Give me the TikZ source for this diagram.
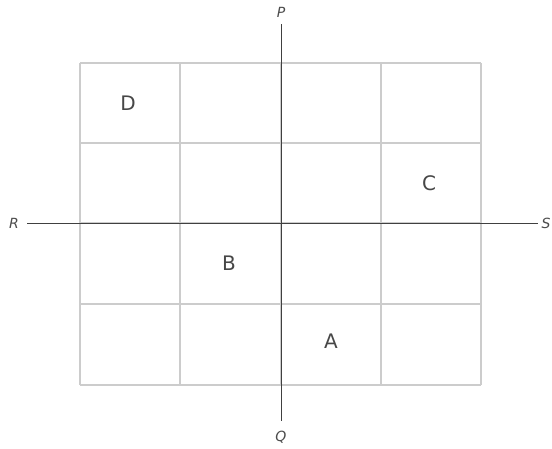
\documentclass[tikz,border=0pt]{standalone}
\usepackage{fontspec}
\setmainfont{DejaVu Sans}
\begin{document}
\begin{tikzpicture}[x=1pt,y=-1pt,
  gridline/.style={draw=black!20,line width=1.1pt},
  axisline/.style={draw=black!75,line width=1pt},
  axlabel/.style={font=\fontsize{14}{14}\selectfont\itshape,text=black!70,inner sep=0pt},
  cell/.style={font=\fontsize{20}{20}\selectfont,text=black!72,inner sep=0pt}]
\useasboundingbox (0,0) rectangle (552,448);
\fill[white] (0,0) rectangle (552,448);
% grid
\foreach \x in {80,180,281,381,481} \draw[gridline] (\x,63) -- (\x,385);
\foreach \y in {63,143,223,304,385} \draw[gridline] (80,\y) -- (481,\y);
% axis labels
\node[axlabel] (P) at (281,12) {P};
\node[axlabel] (Q) at (281,437) {Q};
\node[axlabel] (R) at (14,223) {R};
\node[axlabel] (S) at (546,223) {S};
\coordinate (Ptop) at (281,24);
\coordinate (Qbot) at (281,421);
\coordinate (Rl) at (27,223);
\coordinate (Sr) at (538,223);
\draw[axisline] (Ptop) -- (Qbot);
\draw[axisline] (Rl) -- (Sr);
% cell letters
\node[cell] (D) at (128,103) {D};
\node[cell] (C) at (429,183) {C};
\node[cell] (B) at (229,263) {B};
\node[cell] (A) at (331,341) {A};
\end{tikzpicture}
\end{document}
